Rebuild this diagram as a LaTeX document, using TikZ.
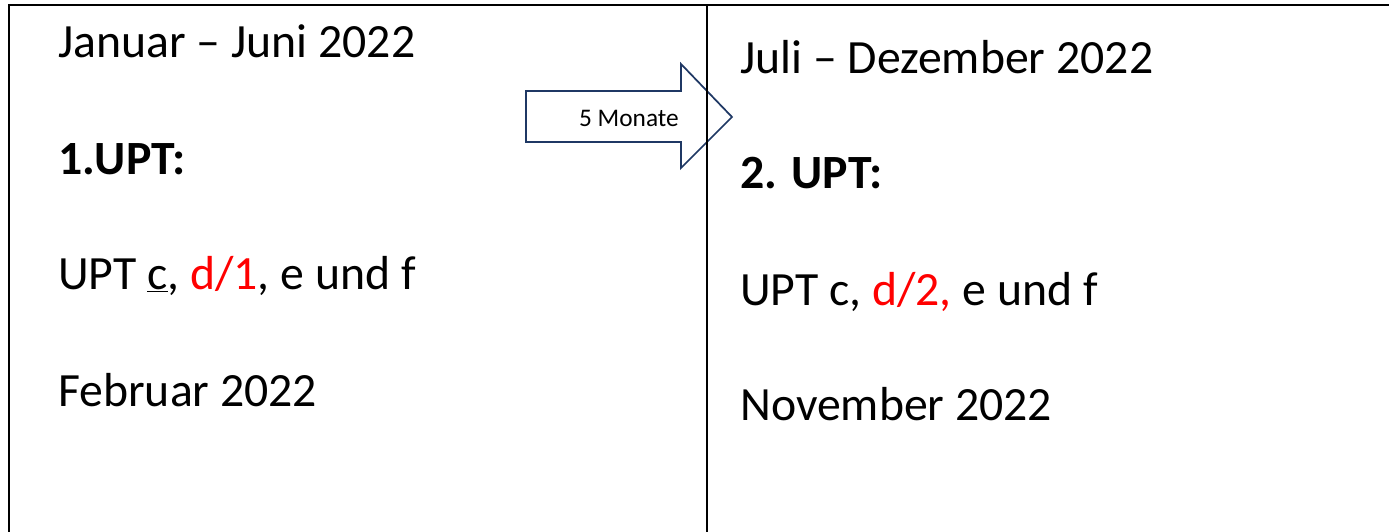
\documentclass[tikz,border=0pt]{standalone}
\usepackage{fontspec}
\setmainfont{Carlito}
\usepackage{xcolor}
\definecolor{arrowblue}{HTML}{1F3864}
\begin{document}
\begin{tikzpicture}[x=0.75pt,y=-0.75pt,
  txt/.style={anchor=base west,inner sep=0pt,font=\fontsize{35.8}{43}\selectfont},
  small/.style={anchor=base east,inner sep=0pt,font=\fontsize{19}{23}\selectfont},
  frame/.style={line width=1.7pt,black},
  bigarrow/.style={draw=arrowblue,line width=1.3pt,fill=white,line join=miter}]
\useasboundingbox (0,0) rectangle (1389,532);
% arrow
\draw[bigarrow] (526,91) -- (681,91) -- (681,64) -- (732,117) -- (681,168) -- (681,142) -- (526,142) -- cycle;
\node[small] (lbl) at (679,126) {5 Monate};
% frame
\coordinate (tl) at (9,5);
\coordinate (tr) at (1389,5);
\coordinate (bl) at (9,532);
\coordinate (tm) at (707,5);
\coordinate (bm) at (707,532);
\draw[frame] (bl) -- (tl) -- (tr);
\draw[frame] (tm) -- (bm);
% left column
\node[txt] (l1) at (58,57) {Januar – Juni 2022};
\node[txt] (l2) at (58,174) {\textbf{1.UPT:}};
\node[txt] (l3) at (58,289) {UPT \underline{c}, \textcolor{red}{d/1}, e und f};
\node[txt] (l4) at (58,406) {Februar 2022};
% right column
\node[txt] (r1) at (740,73) {Juli – Dezember 2022};
\node[txt] (r2) at (740,188) {\textbf{2. UPT:}};
\node[txt] (r3) at (740,305) {UPT c, \textcolor{red}{d/2,} e und f};
\node[txt] (r4) at (740,420) {November 2022};
\end{tikzpicture}
\end{document}
